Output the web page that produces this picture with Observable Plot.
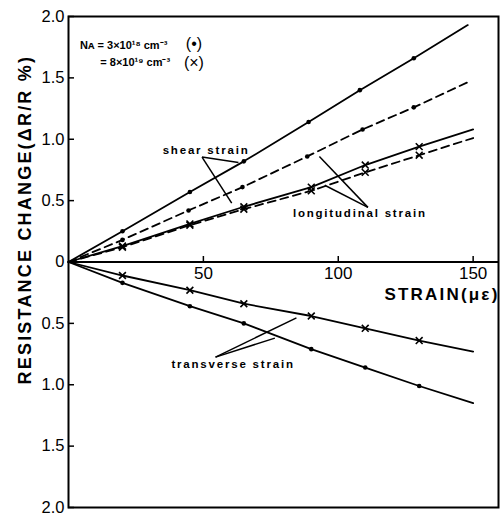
<!DOCTYPE html>
<html><head><meta charset="utf-8">
<script src="https://cdn.jsdelivr.net/npm/d3@7"></script>
<script src="https://cdn.jsdelivr.net/npm/@observablehq/plot@0.6"></script>
<style>body{margin:0;background:#fff}</style>
</head><body><div id="chart"></div>
<script>
// strain values (µε) at the measured points; last value = end of the drawn line
const strain = [0, 20, 45, 65, 90, 110, 130, 150];
const shearDotX = [0, 20, 45, 65, 89, 108, 128, 148];
const longDotX = [0, 20, 44.5, 64.5, 88.5, 109, 128, 148.5];
// resistance change (ΔR/R %)
const shearDot = [0, 0.25, 0.57, 0.82, 1.14, 1.40, 1.66, 1.93];
const longDot = [0, 0.18, 0.42, 0.61, 0.86, 1.08, 1.26, 1.47];
const shearCross = [0, 0.13, 0.31, 0.45, 0.61, 0.79, 0.94, 1.08];
const longCross = [0, 0.12, 0.30, 0.43, 0.58, 0.73, 0.87, 1.01];
const transCross = [0, -0.11, -0.23, -0.34, -0.44, -0.54, -0.64, -0.73];
const transDot = [0, -0.17, -0.36, -0.50, -0.71, -0.86, -1.01, -1.15];

const yTicks = [-2, -1.5, -1, -0.5, 0, 0.5, 1, 1.5, 2];
const xTicks = [50, 100, 150];
const xTitle = "STRAIN(με)";
const yTitle = "RESISTANCE CHANGE(ΔR/R %)";

// annotation labels (data coordinates)
const labels = [
  {x: 51, y: 0.91, text: "shear strain"},
  {x: 108, y: 0.395, text: "longitudinal strain"},
  {x: 61, y: -0.83, text: "transverse strain"}
];
const legendLines = [
  {x: 4.3, y: 1.76, text: "Nᴀ = 3×10¹⁸ cm⁻³"},
  {x: 11.8, y: 1.625, text: "= 8×10¹⁹ cm⁻³"}
];
const legendMarks = [
  {x: 46.5, y: 1.78, text: "(•)"},
  {x: 46.5, y: 1.625, text: "(×)"}
];
// pointer lines [x1, y1, x2, y2]
const pointers = [
  {x1: 49.5, y1: 0.855, x2: 63, y2: 0.81},
  {x1: 49.5, y1: 0.855, x2: 60.5, y2: 0.48},
  {x1: 111, y1: 0.445, x2: 93, y2: 0.86},
  {x1: 111, y1: 0.445, x2: 95, y2: 0.625},
  {x1: 54.5, y1: -0.775, x2: 84.5, y2: -0.455},
  {x1: 54.5, y1: -0.775, x2: 76.5, y2: -0.62}
];

const series = [
  {xs: shearDotX, ys: shearDot, dash: null, mark: "dot"},
  {xs: longDotX, ys: longDot, dash: "8,5", mark: "dot"},
  {xs: strain, ys: shearCross, dash: null, mark: "cross"},
  {xs: strain, ys: longCross, dash: "8,5", mark: "cross"},
  {xs: strain, ys: transCross, dash: null, mark: "cross"},
  {xs: strain, ys: transDot, dash: null, mark: "dot"}
];
const lineMarks = series.map(s => Plot.line(s.xs.map((x, i) => ({x, y: s.ys[i]})), {
  x: "x", y: "y", stroke: "black", strokeWidth: 1.8, strokeDasharray: s.dash
}));
const dotPts = series.filter(s => s.mark === "dot").flatMap(s => s.xs.slice(1, -1).map((x, i) => ({x, y: s.ys[i + 1]})));
const crossPts = series.filter(s => s.mark === "cross").flatMap(s => s.xs.slice(1, -1).map((x, i) => ({x, y: s.ys[i + 1]})));

const fmt = d => d === 0 ? "0" : Math.abs(d).toFixed(1);

const chart = Plot.plot({
  width: 500, height: 518,
  marginLeft: 68, marginTop: 16, marginRight: 2, marginBottom: 11,
  style: {fontFamily: "Liberation Sans, Arial, sans-serif", background: "#fff", color: "black"},
  x: {domain: [0, 159.4], axis: null},
  y: {domain: [-2, 2], axis: null},
  marks: [
    Plot.frame({stroke: "black", strokeWidth: 2}),
    Plot.ruleY([0], {stroke: "black", strokeWidth: 2}),
    Plot.tickY(yTicks, {y: d => d, stroke: "black", strokeWidth: 1.5, insetRight: 424}),
    Plot.ruleX(xTicks, {x: d => d, y1: 0, y2: 0.045, stroke: "black", strokeWidth: 1.5}),
    Plot.text(yTicks, {x: 0, y: d => d, text: fmt, textAnchor: "end", dx: -4, fontSize: 16.5, fill: "black"}),
    Plot.text(xTicks, {x: d => d, y: 0, text: d => String(d), dy: 12, fontSize: 17, fill: "black"}),
    Plot.text([xTitle], {x: 159.4, y: 0, text: d => d, textAnchor: "end", dy: 33, dx: 1, fontSize: 17, fontWeight: "bold", fill: "black"}),
    Plot.text([yTitle], {x: -16.2, y: 0.345, text: d => d, textAnchor: "middle", rotate: -90, fontSize: 18, fontWeight: "bold", fill: "black"}),
    ...lineMarks,
    Plot.dot(dotPts, {x: "x", y: "y", r: 2.3, fill: "black"}),
    Plot.dot(crossPts, {x: "x", y: "y", r: 3.2, symbol: "times", stroke: "black", strokeWidth: 1.6}),
    Plot.link(pointers, {x1: "x1", y1: "y1", x2: "x2", y2: "y2", stroke: "black", strokeWidth: 1.5}),
    Plot.text(labels, {x: "x", y: "y", text: "text", fontSize: 11.5, fontWeight: "bold", fill: "black"}),
    Plot.text(legendLines, {x: "x", y: "y", text: "text", textAnchor: "start", fontSize: 11, fontWeight: "bold", fill: "black"}),
    Plot.text(legendMarks, {x: "x", y: "y", text: "text", fontSize: 16, fill: "black"})
  ]
});
// letter spacing for the titles and annotation labels
const spacing = new Map([[yTitle, "2.2px"], [xTitle, "2.2px"]]);
labels.forEach(l => spacing.set(l.text, "1.8px"));
d3.select(chart).selectAll("text").each(function () {
  const s = spacing.get(this.textContent);
  if (s) this.style.letterSpacing = s;
});
document.getElementById("chart").appendChild(chart);
</script>
</body></html>
